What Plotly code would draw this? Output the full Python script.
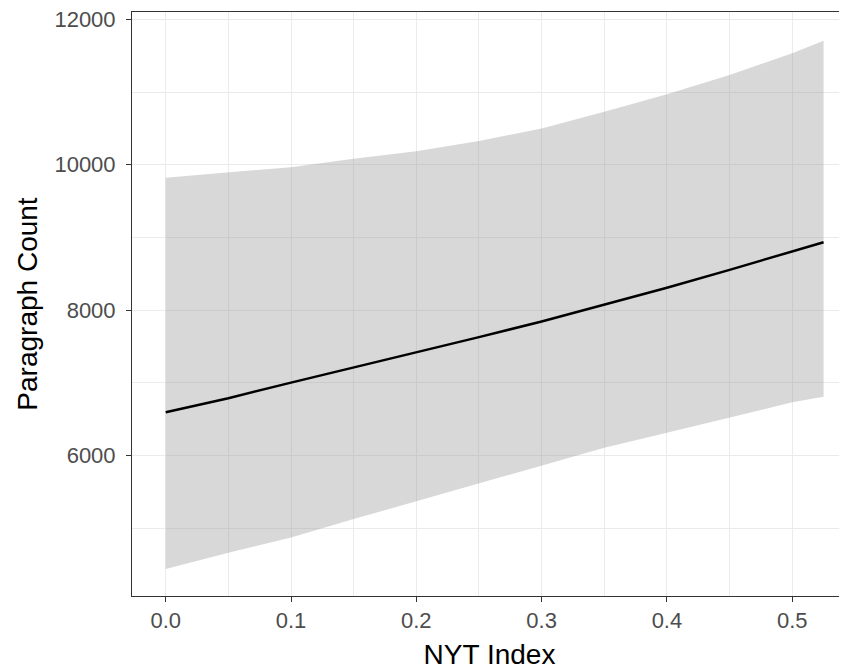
import plotly.graph_objects as go

# Data
nyt_index = [0.0, 0.05, 0.1, 0.15, 0.2, 0.25, 0.3, 0.35, 0.4, 0.45, 0.5, 0.525]
fit = [6597, 6790, 7005, 7210, 7425, 7630, 7845, 8075, 8310, 8555, 8815, 8935]
upper = [9821, 9890, 9967, 10083, 10187, 10325, 10500, 10729, 10968, 11234, 11532, 11706]
lower = [4442, 4666, 4876, 5130, 5372, 5619, 5862, 6110, 6316, 6528, 6734, 6810]

x_ticks = [0.0, 0.1, 0.2, 0.3, 0.4, 0.5]
x_ticklabels = ["0.0", "0.1", "0.2", "0.3", "0.4", "0.5"]
y_ticks = [6000, 8000, 10000, 12000]
y_ticklabels = ["6000", "8000", "10000", "12000"]

FONT = "Liberation Sans, Arial, sans-serif"

fig = go.Figure()
fig.add_trace(go.Scatter(x=nyt_index, y=lower, mode="lines", line=dict(width=0),
                         showlegend=False, hoverinfo="skip"))
fig.add_trace(go.Scatter(x=nyt_index, y=upper, mode="lines", line=dict(width=0),
                         fill="tonexty", fillcolor="rgba(153,153,153,0.38)",
                         showlegend=False, hoverinfo="skip"))
fig.add_trace(go.Scatter(x=nyt_index, y=fit, mode="lines",
                         line=dict(color="black", width=2.5), showlegend=False))

# page body has an 8px margin, so the figure is 839x663 placed at (8, 8)
fig.update_layout(
    width=839, height=663,
    margin=dict(l=124, r=0, t=4, b=75),
    paper_bgcolor="white", plot_bgcolor="white",
    font=dict(family=FONT),
)
fig.update_xaxes(
    range=[-0.0269, 0.5437], automargin=False,
    tickmode="array", tickvals=x_ticks, ticktext=x_ticklabels,
    ticks="outside", ticklen=5, tickcolor="#333333", tickwidth=1,
    tickfont=dict(size=22, color="#4D4D4D"), ticklabeloverflow="allow",
    showgrid=True, gridcolor="#EBEBEB", gridwidth=1.2,
    minor=dict(tickvals=[0.05, 0.15, 0.25, 0.35, 0.45], showgrid=True,
               gridcolor="#EBEBEB", gridwidth=0.6, ticks=""),
    showline=True, linecolor="#333333", linewidth=1, mirror=True,
    zeroline=False,
    title=dict(text="NYT Index", font=dict(size=28, color="black"), standoff=11),
)
fig.update_yaxes(
    range=[4071, 12100], automargin=False,
    tickmode="array", tickvals=y_ticks, ticktext=y_ticklabels,
    ticks="outside", ticklen=5, tickcolor="#333333", tickwidth=1,
    ticklabelstandoff=6, ticklabeloverflow="allow",
    tickfont=dict(size=22, color="#4D4D4D"),
    showgrid=True, gridcolor="#EBEBEB", gridwidth=1.2,
    minor=dict(tickvals=[5000, 7000, 9000, 11000], showgrid=True,
               gridcolor="#EBEBEB", gridwidth=0.6, ticks=""),
    showline=True, linecolor="#333333", linewidth=1, mirror=False,
    zeroline=False,
    title=dict(text="Paragraph Count", font=dict(size=28, color="black"), standoff=8),
)

fig.write_html("out.html")
